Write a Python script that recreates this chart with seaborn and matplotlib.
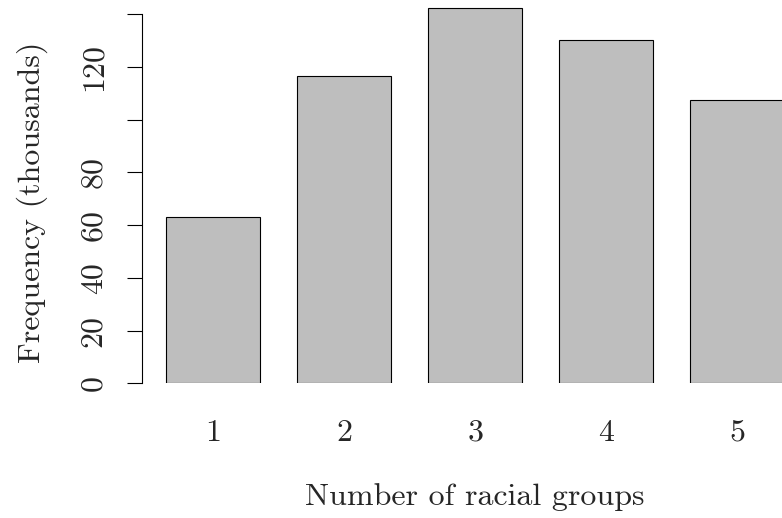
import pandas as pd
import matplotlib
matplotlib.use("Agg")
import matplotlib.pyplot as plt
import seaborn as sns

# racial group counts (thousands)
groups = ["1", "2", "3", "4", "5"]
freq = [63.2, 116.4, 142.4, 130.3, 107.4]
yticks = [0, 20, 40, 60, 80, 100, 120, 140]
ylabels = ["0", "20", "40", "60", "80", "", "120", ""]

df = pd.DataFrame({"groups": groups, "freq": freq})

sns.set_style("white")
plt.rcParams["font.family"] = ["cmr10", "DejaVu Serif"]
plt.rcParams["axes.formatter.use_mathtext"] = True

fig = plt.figure(figsize=(7.82, 5.18), dpi=100)
ax = fig.add_axes([142 / 782, (518 - 383.3) / 518, (782 - 142) / 782, 383.3 / 518])

sns.barplot(data=df, x="groups", y="freq", color="#bebebe", saturation=1,
            width=0.718, edgecolor="black", linewidth=0.8, ax=ax)

ax.set_xlim(-0.544, 4.341)
ax.set_ylim(0, 145.3)
for s in ["top", "right", "bottom"]:
    ax.spines[s].set_visible(False)
ax.spines["left"].set_bounds(0, 140)
ax.spines["left"].set_linewidth(0.8)
ax.spines["left"].set_color("black")

ax.set_yticks(yticks)
ax.set_yticklabels(ylabels, rotation=90, va="center", fontsize=23)
ax.tick_params(axis="y", length=11, width=0.8, pad=14, left=True, color="black")
ax.tick_params(axis="x", length=0, pad=26, labelsize=23)

ax.set_xlabel("Number of racial groups", fontsize=23, labelpad=26)
ax.set_ylabel("Frequency (thousands)", fontsize=23, labelpad=23)
ax.xaxis.label.set_x(0.52)
ax.yaxis.label.set_y(0.472)

fig.savefig("out.png", dpi=100)
